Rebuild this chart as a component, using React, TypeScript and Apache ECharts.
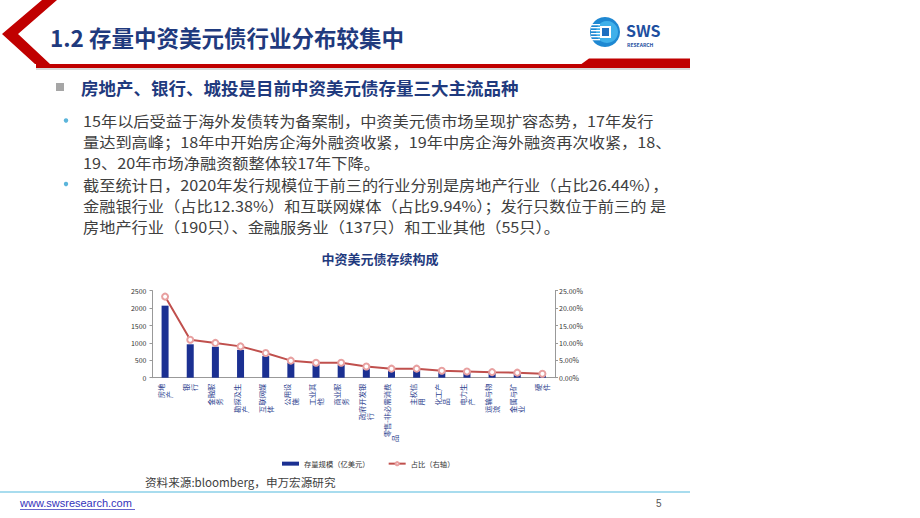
import React, { useEffect, useRef } from "react";
import * as echarts from "echarts";

const categories = [
  "房地产", "银行", "金融服务", "勘探及生产", "互联网媒体", "公用设施", "工业其他", "商业服务",
  "政府开发银行", "零售-非必需消费品", "主权信用", "化工产品", "电力生产", "运输与物流", "金属与矿业", "硬件",
];
const labelBreaks = [2, 1, 3, 4, 4, 3, 3, 3, 5, 8, 3, 3, 3, 4, 4, 1];
const stockValues = [2070, 960, 890, 800, 620, 430, 380, 375, 285, 235, 220, 182, 150, 140, 125, 100];
const shareValues = [23.3, 10.9, 10.0, 9.0, 7.1, 4.9, 4.3, 4.3, 3.2, 2.6, 2.6, 2.0, 1.8, 1.6, 1.45, 1.15];
const leftTicks = { min: 0, max: 2500, interval: 500 };
const rightTicks = { min: 0, max: 25, interval: 5 };

const slideTitle = "1.2 存量中资美元债行业分布较集中";
const heading = "房地产、银行、城投是目前中资美元债存量三大主流品种";
const bodyLines = [
  "15年以后受益于海外发债转为备案制，中资美元债市场呈现扩容态势，17年发行",
  "量达到高峰；18年中开始房企海外融资收紧，19年中房企海外融资再次收紧，18、",
  "19、20年市场净融资额整体较17年下降。",
  "截至统计日，2020年发行规模位于前三的行业分别是房地产行业（占比26.44%），",
  "金融银行业（占比12.38%）和互联网媒体（占比9.94%）；发行只数位于前三的 是",
  "房地产行业（190只）、金融服务业（137只）和工业其他（55只）。",
];
const bulletStarts = [0, 3];
const chartTitle = "中资美元债存续构成";
const barName = "存量规模（亿美元）";
const lineName = "占比（右轴）";
const sourceText = "资料来源:bloomberg，申万宏源研究";

const FONT = '"Noto Sans CJK SC", "Noto Sans", sans-serif';
const NAVY = "#1F3A7E";

export default function App() {
  const ref = useRef<HTMLDivElement>(null);
  useEffect(() => {
    const chart = echarts.init(ref.current!, null, { renderer: "svg" });

    const graphics: any[] = [];
    // chevron
    graphics.push({
      type: "polygon",
      shape: { points: [[42, 0], [57, 0], [18, 34], [50, 64], [35, 64], [2, 34]] },
      style: { fill: "#C00000" },
    });
    graphics.push({ type: "rect", shape: { x: 36, y: 68, width: 654, height: 2 }, style: { fill: "#D9D9D9" } });
    graphics.push({ type: "rect", shape: { x: 36, y: 64, width: 654, height: 4 }, style: { fill: "#C00000" } });
    graphics.push({
      type: "polygon",
      shape: { points: [[576, 68], [589, 58.5], [690, 58.5], [690, 68]] },
      style: { fill: "#C00000" },
    });
    graphics.push({
      type: "text", x: 50, y: 37,
      style: { text: slideTitle, font: `bold 22.5px ${FONT}`, fill: NAVY, verticalAlign: "middle" },
    });
    // logo
    graphics.push({ type: "circle", shape: { cx: 605, cy: 32, r: 15 }, style: { fill: "#1E88D2" } });
    graphics.push({ type: "circle", shape: { cx: 607, cy: 32, r: 11 }, style: { fill: "#3FB0EA" } });
    for (let i = 0; i < 6; i++) {
      graphics.push({
        type: "rect", shape: { x: 591, y: 24 + i * 3, width: 9, height: 1.3 },
        style: { fill: "#ffffff" },
      });
    }
    graphics.push({ type: "rect", shape: { x: 600, y: 26, width: 11, height: 12 }, style: { fill: "#ffffff" } });
    graphics.push({ type: "rect", shape: { x: 602, y: 28, width: 7, height: 8 }, style: { fill: "#1E6FC0" } });
    graphics.push({
      type: "text", x: 626, y: 30,
      style: { text: "SWS", font: `bold 16px ${FONT}`, fill: "#1E4FA0", verticalAlign: "middle" },
    });
    graphics.push({
      type: "text", x: 627, y: 44,
      style: { text: "RESEARCH", font: `bold 5px ${FONT}`, fill: "#1E4FA0", verticalAlign: "middle" },
    });
    // heading
    graphics.push({ type: "rect", shape: { x: 56, y: 83, width: 8, height: 8 }, style: { fill: "#A6A6A6" } });
    graphics.push({
      type: "text", x: 81, y: 87,
      style: { text: heading, font: `bold 17.5px ${FONT}`, fill: NAVY, verticalAlign: "middle" },
    });
    // body
    const lineY = [120.5, 141.5, 162.5, 184, 205, 226];
    bodyLines.forEach((t, i) => {
      if (bulletStarts.includes(i)) {
        graphics.push({ type: "circle", shape: { cx: 66, cy: lineY[i], r: 2.2 }, style: { fill: "#5BB5DB" } });
      }
      graphics.push({
        type: "text", x: 83, y: lineY[i], scaleX: 1.08,
        style: { text: t, font: `15px ${FONT}`, fill: "#404040", verticalAlign: "middle" },
      });
    });
    // source
    graphics.push({
      type: "text", x: 145, y: 482,
      style: { text: sourceText, font: `11.6px ${FONT}`, fill: "#404040", verticalAlign: "middle" },
    });
    // footer
    graphics.push({ type: "rect", shape: { x: 0, y: 491, width: 690, height: 2 }, style: { fill: "#A8DCEE" } });
    graphics.push({
      type: "text", x: 20, y: 503,
      style: { text: "www.swsresearch.com", font: `11px "Liberation Sans", Arial, sans-serif`, fill: "#3333BB", verticalAlign: "middle" },
    });
    graphics.push({ type: "rect", shape: { x: 20, y: 509, width: 115, height: 0.8 }, style: { fill: "#3333BB" } });
    graphics.push({
      type: "text", x: 656, y: 503,
      style: { text: "5", font: `10px "Liberation Sans", Arial, sans-serif`, fill: "#555", verticalAlign: "middle" },
    });

    const labelFormatter = (v: string, i: number) => {
      const n = labelBreaks[i] ?? v.length;
      const a = v.slice(0, n);
      let b = v.slice(n);
      if (!b) return a;
      while (b.length < a.length) b += "\u3000";
      return a + "\n" + b;
    };

    chart.setOption({
      animation: false,
      textStyle: { fontFamily: FONT },
      title: {
        text: chartTitle, left: 375, top: 247, textAlign: "center",
        textStyle: { fontSize: 13, fontWeight: "bold", color: NAVY, fontFamily: FONT },
      },
      legend: {
        left: 277, top: 455, itemWidth: 17, itemHeight: 4, itemGap: 18,
        textStyle: { fontSize: 7.3, color: "#333", fontFamily: FONT },
        data: [{ name: barName, icon: "rect" }, { name: lineName }],
      },
      grid: { left: 152.5, top: 290.7, width: 402.5, height: 87 },
      xAxis: {
        type: "category", data: categories,
        axisLine: { lineStyle: { color: "#999" } },
        axisTick: { show: false },
        axisLabel: {
          interval: 0, rotate: 90, fontSize: 7.3, lineHeight: 8, color: "#2F3F8F", margin: 6,
          formatter: labelFormatter,
        },
      },
      yAxis: [
        {
          type: "value", ...leftTicks,
          axisLine: { show: true, lineStyle: { color: "#999" } },
          axisTick: { show: true, length: 3, lineStyle: { color: "#999" } },
          splitLine: { show: false },
          axisLabel: { fontSize: 7, color: "#333", margin: 6, formatter: (v: number) => String(v) },
        },
        {
          type: "value", position: "right", ...rightTicks,
          axisLine: { show: true, lineStyle: { color: "#999" } },
          axisTick: { show: true, length: 3, lineStyle: { color: "#999" } },
          splitLine: { show: false },
          axisLabel: { fontSize: 7, color: "#333", margin: 4, formatter: (v: number) => v.toFixed(2) + "%" },
        },
      ],
      series: [
        { type: "bar", name: barName, data: stockValues, barWidth: 7, itemStyle: { color: "#1B3092" } },
        {
          type: "line", name: lineName, yAxisIndex: 1, data: shareValues,
          symbol: "emptyCircle", symbolSize: 6,
          lineStyle: { color: "#C0504D", width: 2 },
          itemStyle: { color: "#E8A0A0", borderColor: "#E29A9A", borderWidth: 1 },
        },
      ],
      graphic: graphics,
    });
    return () => chart.dispose();
  }, []);
  return <div ref={ref} style={{ position: "absolute", left: 0, top: 0, width: 920, height: 518, background: "#fff" }} />;
}
